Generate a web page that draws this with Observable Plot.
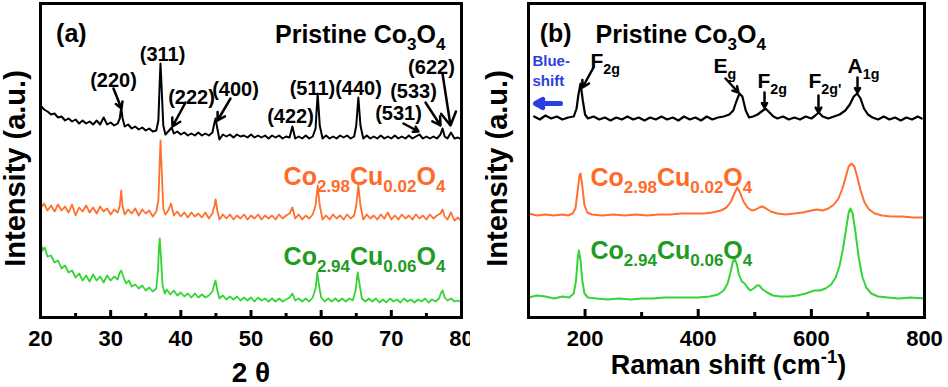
<!DOCTYPE html>
<html>
<head>
<meta charset="utf-8">
<script src="https://cdn.jsdelivr.net/npm/d3@7"></script>
<script src="https://cdn.jsdelivr.net/npm/@observablehq/plot@0.6"></script>
<style>
  html, body { margin: 0; padding: 0; background: white; }
  #wrap { position: relative; width: 948px; height: 387px; overflow: hidden; background: white; }
  #wrap > svg { position: absolute; top: 0; }
</style>
</head>
<body>
<div id="wrap"></div>
<script>
// ---------- XRD data: [2θ, intensity (a.u.)] ----------
const xrdPristine = [[20,212],[20.5,208],[21,206],[21.5,203],[22,204],[22.5,200],[23,201],[23.5,197],[24,199],[24.5,196],[25,198],[25.5,194],[26,197],[26.5,194],[27,196],[27.5,193],[28,197],[28.5,193],[29,200],[29.5,193],[30,195],[30.5,192],[31,194],[31.3,199],[31.5,210],[31.7,199],[32,191],[32.5,193],[33,189],[33.5,191],[34,188],[34.5,190],[35,187],[35.5,189],[36,186],[36.5,187],[36.8,197],[37,237],[37.1,254],[37.25,232],[37.5,192],[37.8,183],[38.2,186],[38.7,190],[39,184],[39.5,186],[40,183],[40.5,185],[41,182],[41.5,184],[42,182],[42.5,185],[43,182],[43.5,184],[44,182],[44.5,185],[44.8,195],[44.95,199],[45.2,189],[45.5,178],[46,183],[46.5,181],[47,183],[47.5,180],[48,183],[48.5,181],[49,182],[49.5,180],[50,183],[50.5,180],[51,182],[51.5,180],[52,182],[52.5,179],[53,182],[53.5,180],[54,182],[54.5,179],[55,181],[55.5,180],[55.9,191],[56.3,179],[56.8,181],[57.3,179],[57.8,182],[58.3,179],[58.8,181],[59.2,189],[59.5,224],[59.8,192],[60.2,179],[60.7,182],[61.2,179],[61.7,181],[62.2,179],[62.7,182],[63.2,180],[63.7,182],[64.2,179],[64.7,181],[65,192],[65.3,220],[65.6,192],[66,179],[66.5,182],[67,179],[67.5,181],[68,179],[68.5,182],[69,179],[69.5,181],[70,179],[70.5,182],[71,179],[71.5,181],[72,179],[72.5,182],[73,179],[73.5,181],[74,183],[74.5,179],[75,181],[75.5,179],[76,181],[76.5,179],[77,183],[77.3,189],[77.6,181],[78,179],[78.5,185],[79,179],[79.5,180],[80,178]];
const xrdCu002 = [[20,109],[20.5,114],[21,107],[21.5,112],[22,106],[22.5,113],[23,107],[23.5,111],[24,105],[24.5,113],[25,102],[25.5,110],[26,106],[26.5,112],[27,105],[27.5,110],[28,104],[28.5,111],[29,106],[29.5,109],[30,103],[30.5,108],[31,105],[31.3,112],[31.5,127],[31.7,111],[32,103],[32.5,108],[33,104],[33.5,109],[34,102],[34.5,108],[35,104],[35.5,107],[36,101],[36.5,106],[36.8,117],[37,157],[37.1,177],[37.25,152],[37.5,109],[37.8,103],[38.2,107],[38.6,114],[39,102],[39.5,106],[40,101],[40.5,105],[41,100],[41.5,105],[42,101],[42.5,104],[43,100],[43.5,105],[44,99],[44.5,104],[44.8,112],[44.95,118],[45.2,107],[45.5,98],[46,103],[46.5,99],[47,103],[47.5,98],[48,102],[48.5,99],[49,103],[49.5,98],[50,102],[50.5,99],[51,103],[51.5,98],[52,102],[52.5,99],[53,102],[53.5,98],[54,103],[54.5,99],[55,102],[55.5,104],[55.9,110],[56.3,99],[56.8,103],[57.3,98],[57.8,102],[58.3,99],[58.8,103],[59.2,112],[59.5,132],[59.8,112],[60.2,98],[60.7,102],[61.2,98],[61.7,103],[62.2,99],[62.7,102],[63.2,98],[63.7,103],[64.2,99],[64.7,102],[65,112],[65.3,132],[65.6,112],[66,98],[66.5,103],[67,99],[67.5,102],[68,98],[68.5,103],[69,99],[69.5,105],[70,98],[70.5,102],[71,98],[71.5,103],[72,99],[72.5,102],[73,98],[73.5,103],[74,99],[74.5,102],[75,98],[75.5,103],[76,99],[76.5,102],[77,104],[77.3,108],[77.6,101],[78,98],[78.5,105],[79,97],[79.5,100],[80,96]];
const xrdCu006 = [[20,75],[20.3,67],[20.6,70],[21,61],[21.5,62],[22,55],[22.5,57],[23,49],[23.5,52],[24,45],[24.5,47],[25,40],[25.5,44],[26,37],[26.5,42],[27,36],[27.5,43],[28,37],[28.5,41],[29,35],[29.5,42],[30,37],[30.5,41],[31,38],[31.3,45],[31.5,47],[31.8,41],[32.2,34],[32.6,37],[33,31],[33.5,33],[34,29],[34.5,32],[35,27],[35.5,30],[36,26],[36.5,29],[36.75,47],[36.9,72],[37,79],[37.15,62],[37.4,32],[37.7,24],[38,28],[38.5,23],[39,27],[39.5,22],[40,25],[40.5,21],[41,24],[41.5,20],[42,24],[42.5,20],[43,23],[43.5,20],[44,22],[44.5,26],[44.8,34],[44.95,37],[45.2,27],[45.5,19],[46,22],[46.5,18],[47,21],[47.5,18],[48,21],[48.5,17],[49,20],[49.5,17],[50,20],[50.5,16],[51,20],[51.5,17],[52,19],[52.5,16],[53,19],[53.5,16],[54,19],[54.5,16],[55,18],[55.5,20],[55.9,24],[56.3,17],[56.8,19],[57.3,16],[57.8,19],[58.3,16],[58.8,20],[59.2,29],[59.45,45],[59.7,32],[60,20],[60.5,16],[61,19],[61.5,16],[62,19],[62.5,16],[63,19],[63.5,16],[64,19],[64.5,17],[64.9,27],[65.2,45],[65.5,32],[65.8,19],[66.3,16],[66.8,19],[67.3,16],[67.8,19],[68.3,15],[68.8,18],[69.3,15],[69.8,19],[70.3,16],[70.8,18],[71.3,15],[71.8,19],[72.3,16],[72.8,18],[73.3,15],[73.8,18],[74.3,16],[74.8,19],[75.3,15],[75.8,18],[76.3,16],[76.8,19],[77.1,25],[77.3,27],[77.6,20],[78,17],[78.5,19],[79,16],[79.5,17],[80,15]];

// ---------- Raman data: [Raman shift (cm-1), intensity (a.u.)] ----------
const ramanPristine = [[110,201],[120,198],[130,202],[140,199],[150,201],[160,198],[170,200],[180,201],[185,209],[188,222],[192,234],[196,217],[200,203],[205,199],[215,201],[225,198],[235,200],[245,197],[255,200],[265,198],[275,201],[285,198],[295,200],[305,197],[315,200],[325,198],[335,201],[345,198],[355,200],[365,197],[375,201],[385,198],[395,200],[405,197],[415,201],[425,198],[435,200],[445,201],[455,203],[462,207],[468,217],[473,224],[478,221],[484,207],[490,200],[497,201],[505,203],[512,206],[519,209],[526,205],[533,201],[540,199],[550,201],[560,198],[570,200],[580,198],[590,201],[600,199],[607,202],[613,205],[620,201],[630,199],[640,201],[650,203],[660,207],[668,213],[675,221],[681,224],[687,219],[693,209],[700,203],[708,200],[718,198],[728,201],[738,198],[748,200],[758,197],[768,200],[778,198],[788,201],[795,199]];
const ramanCu002 = [[100,104],[115,102],[130,103],[145,102],[160,103],[170,102],[178,104],[183,109],[187,127],[190,142],[192,144],[195,132],[199,112],[204,105],[212,103],[230,102],[250,103],[270,102],[290,103],[310,102],[330,103],[350,103],[370,104],[390,104],[410,104],[425,105],[440,107],[450,110],[458,116],[464,124],[469,130],[474,125],[480,116],[487,110],[495,107],[502,108],[508,110],[513,111],[520,109],[528,106],[540,104],[555,103],[570,104],[585,105],[600,107],[610,108],[620,107],[630,109],[640,113],[648,119],[655,129],[661,141],[666,151],[671,154],[676,151],[681,141],[687,127],[694,115],[702,108],[712,104],[725,102],[740,101],[760,101],[780,100],[800,100]];
const ramanCu006 = [[100,20],[115,22],[130,21],[145,19],[160,21],[172,20],[180,24],[184,37],[187,59],[189,67],[192,57],[195,37],[199,24],[205,20],[220,19],[240,18],[260,19],[280,18],[300,19],[320,19],[340,20],[360,20],[380,20],[400,20],[420,21],[435,23],[445,27],[452,34],[457,45],[461,55],[464,59],[468,54],[472,43],[477,36],[482,34],[487,30],[492,27],[498,29],[504,32],[508,32],[514,28],[522,25],[532,22],[545,21],[560,21],[575,22],[590,24],[605,27],[615,27],[625,29],[635,33],[643,40],[650,52],[656,69],[661,87],[666,105],[669,109],[673,104],[678,85],[684,59],[690,41],[697,30],[706,24],[718,21],[735,20],[755,19],[775,20],[800,19]];

// ---------- ticks ----------
const xrdTickLabels = [20, 30, 40, 50, 60, 70, 80];
const xrdMinorTicks = [25, 35, 45, 55, 65, 75];
const ramanTickLabels = [200, 400, 600, 800];
const ramanMajorTicks = [200, 400, 600];
const ramanMinorTicks = [300, 500, 700];

// ---------- annotations ----------
const xrdPeakLabels = [
  {t: "(220)", x: 30.4, y: 237}, {t: "(311)", x: 37.39, y: 263}, {t: "(222)", x: 41.52, y: 220},
  {t: "(400)", x: 47.79, y: 228}, {t: "(422)", x: 55.63, y: 201}, {t: "(511)", x: 58.76, y: 229},
  {t: "(440)", x: 65.32, y: 229}, {t: "(531)", x: 71.02, y: 204}, {t: "(533)", x: 73.16, y: 226},
  {t: "(622)", x: 75.72, y: 250}
];
const xrdArrows = [
  {x1: 30.40, y1: 229, x2: 31.54, y2: 209}, {x1: 40.67, y1: 215, x2: 38.81, y2: 191},
  {x1: 47.08, y1: 219, x2: 45.23, y2: 197}, {x1: 71.73, y1: 194, x2: 73.87, y2: 186},
  {x1: 74.87, y1: 215, x2: 77.01, y2: 192}, {x1: 77.29, y1: 244, x2: 78.43, y2: 192}
];
const xrdSeriesLabels = [
  {t: "Pristine Co_{3}O_{4}", x: 77.7, y: 283, c: "black"},
  {t: "Co_{2.98}Cu_{0.02}O_{4}", x: 77.7, y: 141, c: "#ff6a2a"},
  {t: "Co_{2.94}Cu_{0.06}O_{4}", x: 77.7, y: 61, c: "#1f9a22"}
];
const ramanPeakLabels = [
  {t: "F_{2g}", x: 209.6, y: 256}, {t: "E_{g}", x: 427, y: 251}, {t: "F_{2g}", x: 504.8, y: 236},
  {t: "F_{2g'}", x: 595, y: 236}, {t: "A_{1g}", x: 664, y: 251}
];
const ramanArrows = [
  {x1: 214.9, y1: 250, x2: 195.5, y2: 230}, {x1: 448.2, y1: 239, x2: 471.2, y2: 225},
  {x1: 517.2, y1: 225, x2: 517.2, y2: 210}, {x1: 612.6, y1: 222, x2: 612.6, y2: 205},
  {x1: 681.6, y1: 240, x2: 681.6, y2: 225}
];
const blueShiftText = [{t: "Blue-", x: 107, y: 256}, {t: "shift", x: 107, y: 236.5}];
const blueShiftArrow = [{x1: 156.6, y1: 214, x2: 112.4, y2: 214}];
const ramanSeriesLabels = [
  {t: "Pristine Co_{3}O_{4}", x: 218.4, y: 283, c: "black"},
  {t: "Co_{2.98}Cu_{0.02}O_{4}", x: 209.6, y: 140, c: "#ff6a2a"},
  {t: "Co_{2.94}Cu_{0.06}O_{4}", x: 209.6, y: 67, c: "#1f9a22"}
];

const BLACK = "#000000", ORANGE = "#ff6f2e", GREEN = "#35d435";
const FONT = "'Liberation Sans', Arial, Helvetica, sans-serif";
const baseStyle = {fontFamily: FONT, fontWeight: "bold", background: "white", color: "black", overflow: "visible"};
const yDomain = [0, 314];

const panelA = Plot.plot({
  width: 470, height: 387,
  marginLeft: 40, marginRight: 9, marginTop: 3, marginBottom: 70,
  style: baseStyle,
  x: {domain: [20, 80]},
  y: {domain: yDomain, axis: null},
  marks: [
    Plot.line(xrdCu006, {x: d => d[0], y: d => d[1], stroke: GREEN, strokeWidth: 1.8}),
    Plot.line(xrdCu002, {x: d => d[0], y: d => d[1], stroke: ORANGE, strokeWidth: 1.8}),
    Plot.line(xrdPristine, {x: d => d[0], y: d => d[1], stroke: BLACK, strokeWidth: 2}),
    Plot.arrow(xrdArrows, {x1: "x1", y1: "y1", x2: "x2", y2: "y2", stroke: BLACK, strokeWidth: 2.5, headLength: 9}),
    Plot.text(xrdPeakLabels, {x: "x", y: "y", text: "t", fontSize: 20, textAnchor: "middle", lineAnchor: "middle", fill: BLACK}),
    Plot.text(xrdSeriesLabels, {x: "x", y: "y", text: "t", fill: "c", fontSize: 25, textAnchor: "end", lineAnchor: "middle"}),
    Plot.text(["(a)"], {x: 24.4, y: 284, fontSize: 25, textAnchor: "middle", lineAnchor: "middle"}),
    Plot.ruleX(xrdTickLabels, {x: d => d, y1: 0, y2: 7, stroke: BLACK, strokeWidth: 3}),
    Plot.ruleX(xrdMinorTicks, {x: d => d, y1: 0, y2: 4, stroke: BLACK, strokeWidth: 3}),
    Plot.axisX({ticks: xrdTickLabels, tickSize: 0, tickPadding: 13, fontSize: 22, label: null, tickFormat: d => String(d)}),
    Plot.frame({stroke: BLACK, strokeWidth: 3}),
    Plot.text(["Intensity (a.u.)"], {frameAnchor: "left", rotate: -90, dx: -25, dy: 8, fontSize: 29, textAnchor: "middle", lineAnchor: "middle"}),
    Plot.text(["2 θ"], {frameAnchor: "bottom", dy: 56, fontSize: 28, textAnchor: "middle", lineAnchor: "middle"})
  ]
});

const panelB = Plot.plot({
  width: 478, height: 387,
  marginLeft: 58, marginRight: 24, marginTop: 3, marginBottom: 70,
  style: baseStyle,
  x: {domain: [100, 800]},
  y: {domain: yDomain, axis: null},
  marks: [
    Plot.line(ramanCu006, {x: d => d[0], y: d => d[1], stroke: GREEN, strokeWidth: 2}),
    Plot.line(ramanCu002, {x: d => d[0], y: d => d[1], stroke: ORANGE, strokeWidth: 2}),
    Plot.line(ramanPristine, {x: d => d[0], y: d => d[1], stroke: BLACK, strokeWidth: 2.2}),
    Plot.arrow(ramanArrows, {x1: "x1", y1: "y1", x2: "x2", y2: "y2", stroke: BLACK, strokeWidth: 2.5, headLength: 8}),
    Plot.arrow(blueShiftArrow, {x1: "x1", y1: "y1", x2: "x2", y2: "y2", stroke: "#2b3fe0", strokeWidth: 5, headLength: 6}),
    Plot.text(blueShiftText, {x: "x", y: "y", text: "t", fill: "#2b3fe0", fontSize: 15, textAnchor: "start", lineAnchor: "middle"}),
    Plot.text(ramanPeakLabels, {x: "x", y: "y", text: "t", fontSize: 21, textAnchor: "start", lineAnchor: "middle", fill: BLACK}),
    Plot.text(ramanSeriesLabels, {x: "x", y: "y", text: "t", fill: "c", fontSize: 25, textAnchor: "start", lineAnchor: "middle"}),
    Plot.text(["(b)"], {x: 148, y: 284, fontSize: 25, textAnchor: "middle", lineAnchor: "middle"}),
    Plot.ruleX(ramanMajorTicks, {x: d => d, y1: 0, y2: 8, stroke: BLACK, strokeWidth: 3}),
    Plot.ruleX(ramanMinorTicks, {x: d => d, y1: 0, y2: 5, stroke: BLACK, strokeWidth: 3}),
    Plot.axisX({ticks: ramanTickLabels, tickSize: 0, tickPadding: 13, fontSize: 22, label: null, tickFormat: d => String(d)}),
    Plot.frame({stroke: BLACK, strokeWidth: 3}),
    Plot.text(["Intensity (a.u.)"], {frameAnchor: "left", rotate: -90, dx: -31, dy: 8, fontSize: 29, textAnchor: "middle", lineAnchor: "middle"}),
    Plot.text(["Raman shift (cm^{-1})"], {frameAnchor: "bottom", dx: 2, dy: 48, fontSize: 27, textAnchor: "middle", lineAnchor: "middle"})
  ]
});

const wrap = document.getElementById("wrap");
panelA.style.left = "0px";
panelB.style.left = "470px";
wrap.appendChild(panelA);
wrap.appendChild(panelB);

// Render _{sub} and ^{sup} markup as tspans
const NS = "http://www.w3.org/2000/svg";
function richify(el) {
  const s = el.textContent;
  if (!/[_^]\{/.test(s)) return;
  const fs = parseFloat(getComputedStyle(el).fontSize) || 20;
  while (el.firstChild) el.removeChild(el.firstChild);
  let shift = 0;
  const add = (txt, target, small) => {
    const t = document.createElementNS(NS, "tspan");
    t.textContent = txt;
    const dy = target - shift;
    if (dy) t.setAttribute("dy", dy.toFixed(2));
    shift = target;
    if (small) t.setAttribute("font-size", (fs * 0.68).toFixed(1));
    el.appendChild(t);
  };
  const re = /([_^])\{([^}]*)\}/g;
  let last = 0, m;
  while ((m = re.exec(s))) {
    if (m.index > last) add(s.slice(last, m.index), 0, false);
    add(m[2], m[1] === "_" ? fs * 0.28 : -fs * 0.42, true);
    last = re.lastIndex;
  }
  if (last < s.length) add(s.slice(last), 0, false);
}
for (const svg of [panelA, panelB]) {
  svg.querySelectorAll("text").forEach(el => {
    if (el.querySelector("tspan")) el.querySelectorAll("tspan").forEach(richify);
    else richify(el);
  });
}
</script>
</body>
</html>
